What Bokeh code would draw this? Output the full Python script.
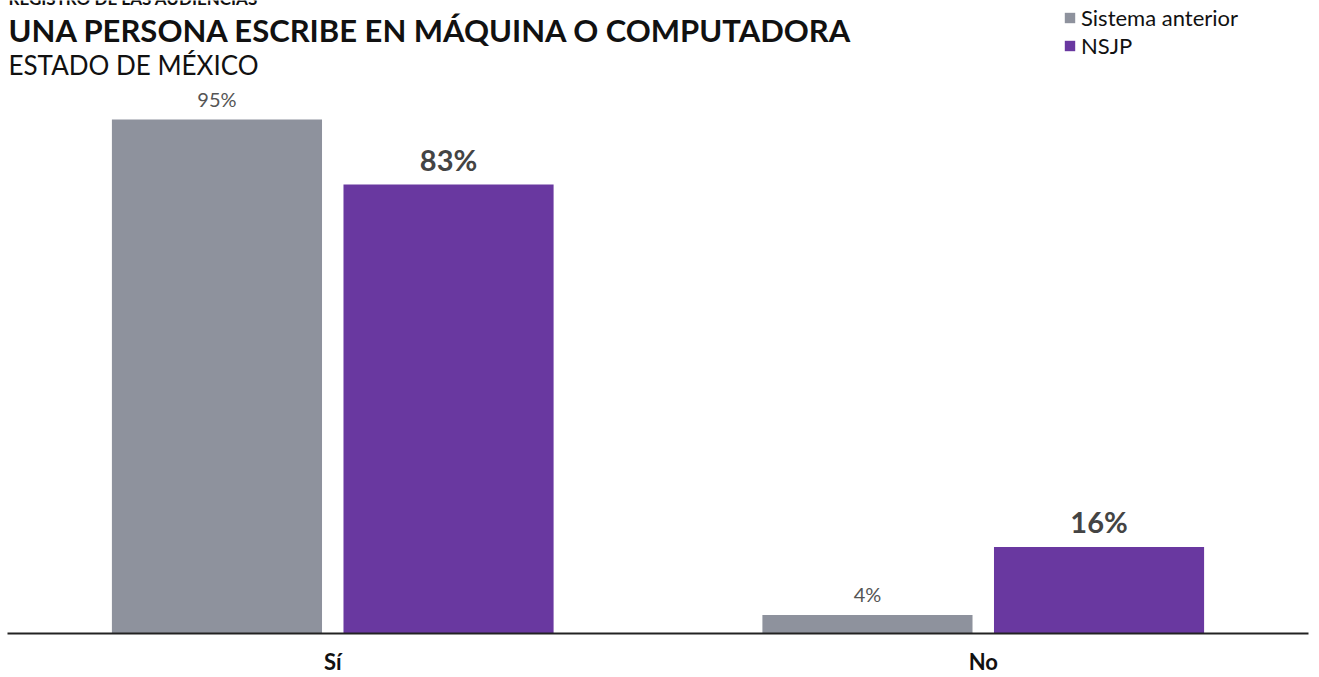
from bokeh.plotting import figure
from bokeh.models import ColumnDataSource, Label, Legend, LegendItem, FactorRange
from bokeh.transform import dodge
from bokeh.core.properties import value
from bokeh.embed import file_html
from bokeh.resources import INLINE

categories = ["Sí", "No"]
series_names = ["Sistema anterior", "NSJP"]
sistema_anterior = [95, 3.4]
nsjp = [83, 16]
sistema_labels = ["95%", "4%"]
nsjp_labels = ["83%", "16%"]

supertitle = "REGISTRO DE LAS AUDIENCIAS"
title = "UNA PERSONA ESCRIBE EN MÁQUINA O COMPUTADORA"
subtitle = "ESTADO DE MÉXICO"

GRAY = "#8e929d"
PURPLE = "#6938a0"

src = ColumnDataSource(dict(cat=categories, a=sistema_anterior, b=nsjp,
                            la=sistema_labels, lb=nsjp_labels))

p = figure(x_range=FactorRange(*categories), y_range=(0, 117),
           width=1309, height=677, output_backend="svg", toolbar_location=None,
           min_border_left=7, min_border_right=1, min_border_top=0, min_border_bottom=44)
p.outline_line_color = None
p.grid.visible = False
p.yaxis.visible = False
p.x_range.range_padding = 0

ra = p.vbar(x=dodge("cat", -0.178, range=p.x_range), top="a", width=0.323, source=src,
            fill_color=GRAY, line_color=None)
rb = p.vbar(x=dodge("cat", 0.178, range=p.x_range), top="b", width=0.323, source=src,
            fill_color=PURPLE, line_color=None)

p.text(x=dodge("cat", -0.178, range=p.x_range), y="a", text="la", source=src,
       text_align="center", text_baseline="alphabetic", y_offset=-21,
       text_font=value("Lato"), text_font_size="20px", text_color="#555555")
p.text(x=dodge("cat", 0.178, range=p.x_range), y="b", text="lb", source=src,
       text_align="center", text_baseline="alphabetic", y_offset=-25,
       text_font=value("Lato"), text_font_size="29px", text_font_style="bold",
       text_color="#444444")

ax = p.xaxis[0]
ax.axis_line_color = "#222222"
ax.axis_line_width = 2
ax.major_tick_line_color = None
ax.major_tick_out = 0
ax.minor_tick_line_color = None
ax.major_label_text_font = "Lato"
ax.major_label_text_font_style = "bold"
ax.major_label_text_font_size = "22px"
ax.major_label_text_color = "#111111"
ax.major_label_standoff = 14

# titles (screen units relative to frame bottom-left; frame bottom at y=633)
p.add_layout(Label(x=1, y=635, x_units="screen", y_units="screen", text=supertitle,
                   text_font="Lato", text_font_style="bold", text_font_size="17px",
                   text_color="#111111", text_baseline="alphabetic"))
p.add_layout(Label(x=1, y=604, x_units="screen", y_units="screen", text=title,
                   text_font="Lato", text_font_style="bold", text_font_size="31px",
                   text_color="#111111", text_baseline="alphabetic"))
p.add_layout(Label(x=1, y=569, x_units="screen", y_units="screen", text=subtitle,
                   text_font="Lato", text_font_size="26px",
                   text_color="#111111", text_baseline="alphabetic"))

legend = Legend(items=[LegendItem(label=series_names[0], renderers=[ra]),
                       LegendItem(label=series_names[1], renderers=[rb])],
                location=(1056, 574), orientation="vertical",
                glyph_width=13, glyph_height=13, label_height=28, label_standoff=5,
                spacing=0, padding=0, margin=0,
                label_text_font="Lato", label_text_font_size="22px",
                label_text_color="#111111",
                border_line_color=None, background_fill_alpha=0)
p.add_layout(legend)

open("out.html", "w").write(file_html(p, INLINE))
